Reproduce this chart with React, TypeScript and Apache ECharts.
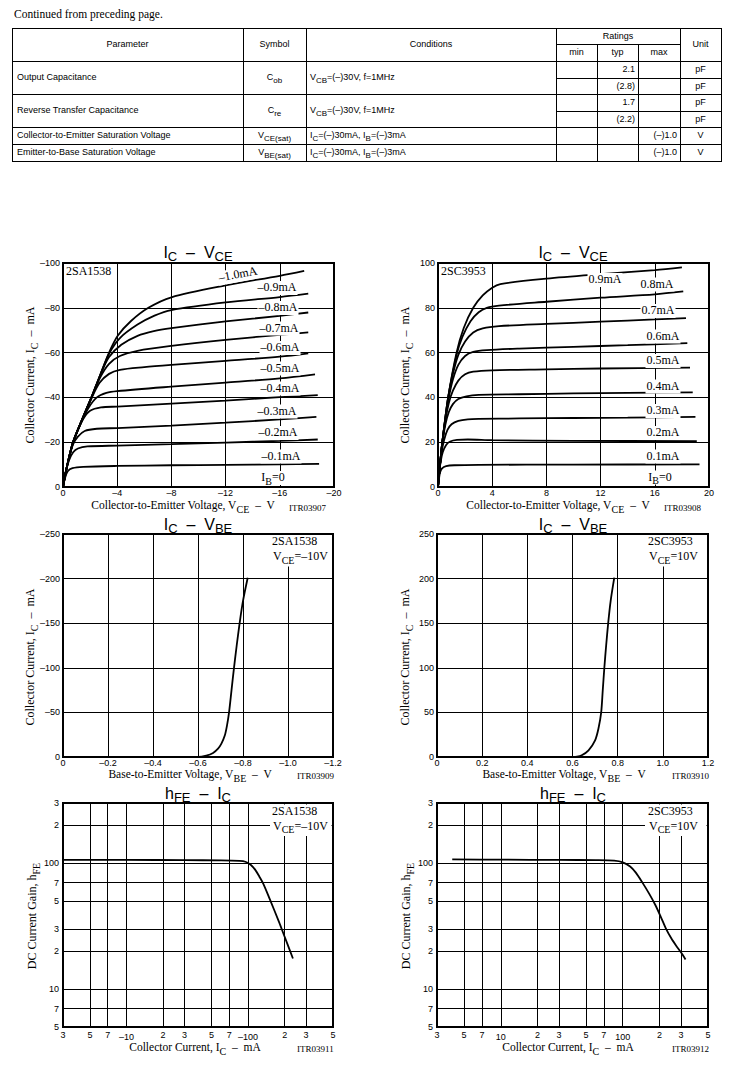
import React, { useEffect, useRef } from 'react';
import * as echarts from 'echarts';

const SANS = '"Liberation Sans", Arial, Helvetica, sans-serif';
const SERIF = '"Liberation Serif", "Times New Roman", Times, serif';

// ---------------- table content ----------------
const pageNote = 'Continued from preceding page.';
const tableHeaders = ['Parameter', 'Symbol', 'Conditions', 'Ratings', 'Unit'];
const ratingHeaders = ['min', 'typ', 'max'];
const paramNames = [
  'Output Capacitance',
  'Reverse Transfer Capacitance',
  'Collector-to-Emitter Saturation Voltage',
  'Emitter-to-Base Saturation Voltage',
];
const paramSymbols = ['C_{ob}', 'C_{re}', 'V_{CE(sat)}', 'V_{BE(sat)}'];
const paramConditions = [
  'V_{CB}=(–)30V, f=1MHz',
  'V_{CB}=(–)30V, f=1MHz',
  'I_{C}=(–)30mA, I_{B}=(–)3mA',
  'I_{C}=(–)30mA, I_{B}=(–)3mA',
];
const ratingMin = ['', '', '', '', '', ''];
const ratingTyp = ['2.1', '(2.8)', '1.7', '(2.2)', '', ''];
const ratingMax = ['', '', '', '', '(–)1.0', '(–)1.0'];
const ratingUnit = ['pF', 'pF', 'pF', 'pF', 'V', 'V'];

// ---------------- chart texts ----------------
const partPnp = '2SA1538';
const partNpn = '2SC3953';
const titleIcVce = 'I_{C}  –  V_{CE}';
const titleIcVbe = 'I_{C}  –  V_{BE}';
const titleHfeIc = 'h_{FE}  –  I_{C}';
const nameVce = 'Collector-to-Emitter Voltage, V_{CE}  –  V';
const nameVbe = 'Base-to-Emitter Voltage, V_{BE}  –  V';
const nameIcX = 'Collector Current, I_{C}  –  mA';
const nameIcY = 'Collector Current, I_{C}  –  mA';
const nameHfe = 'DC Current Gain, h_{FE}';
const condPnp = 'V_{CE}=–10V';
const condNpn = 'V_{CE}=10V';
const figCodes = ['ITR03907', 'ITR03908', 'ITR03909', 'ITR03910', 'ITR03911', 'ITR03912'];
const pnpCurveLabels = ['–1.0mA', '–0.9mA', '–0.8mA', '–0.7mA', '–0.6mA', '–0.5mA', '–0.4mA', '–0.3mA', '–0.2mA', '–0.1mA', 'I_{B}=0'];
const npnCurveLabels = ['0.9mA', '0.8mA', '0.7mA', '0.6mA', '0.5mA', '0.4mA', '0.3mA', '0.2mA', '0.1mA', 'I_{B}=0'];

// ---------------- IC - VCE, 2SA1538 (V, mA) ----------------
const pnpIb01 = [[0, 0], [-0.15, -4], [-0.35, -7], [-0.7, -8.4], [-1.5, -9], [-4, -9.4], [-8, -9.7], [-12, -9.9], [-16, -10.1], [-18.9, -10.3]];
const pnpIb02 = [[0, 0], [-0.2, -6.5], [-0.45, -12], [-0.75, -15.5], [-1.1, -17.2], [-1.8, -18.1], [-4, -18.5], [-8, -19.1], [-12, -19.8], [-16, -20.6], [-18.8, -21.2]];
const pnpIb03 = [[0, 0], [-0.2, -6.5], [-0.4, -12], [-0.74, -19], [-1.1, -22.5], [-1.6, -25], [-2.5, -26], [-4, -26.3], [-8, -27.4], [-12, -28.7], [-16, -30.2], [-18.7, -31.3]];
const pnpIb04 = [[0, 0], [-0.2, -6.5], [-0.4, -12], [-0.74, -19.5], [-1.1, -25.5], [-1.5, -30.5], [-2, -34], [-2.8, -35.5], [-4, -35.9], [-8, -37.2], [-12, -38.6], [-16, -40.1], [-18.8, -41]];
const pnpIb05 = [[0, 0], [-0.2, -6.5], [-0.4, -12], [-0.74, -19.8], [-1.4, -29.5], [-1.9, -35.5], [-2.5, -40], [-3.2, -42], [-4, -42.8], [-8, -44.8], [-12, -46.6], [-16, -48.5], [-18.6, -50.3]];
const pnpIb06 = [[0, 0], [-0.2, -6.5], [-0.4, -12], [-0.74, -20], [-1.4, -30], [-2.1, -39.5], [-2.7, -46.5], [-3.4, -50.5], [-4.2, -52.3], [-6, -53.5], [-8, -54.5], [-12, -56.3], [-16, -58.2], [-18.1, -59.7]];
const pnpIb07 = [[0, 0], [-0.2, -6.5], [-0.4, -12], [-0.74, -20], [-1.4, -30], [-2.1, -40], [-2.75, -49], [-3.4, -55], [-4.2, -58.5], [-5.5, -60.8], [-8, -63], [-12, -65.7], [-16, -67.9], [-18.1, -69]];
const pnpIb08 = [[0, 0], [-0.2, -6.5], [-0.4, -12], [-0.74, -20], [-1.4, -30], [-2.1, -40], [-2.75, -50], [-3.4, -58], [-4.3, -63.5], [-5.5, -67.5], [-6.7, -69.6], [-8, -70.9], [-12, -73.9], [-16, -76.4], [-18.1, -77.9]];
const pnpIb09 = [[0, 0], [-0.2, -6.5], [-0.4, -12], [-0.74, -20], [-1.4, -30], [-2.1, -40], [-2.75, -50], [-3.4, -59.5], [-4.2, -66.5], [-5.5, -72.5], [-6.75, -76.5], [-8, -79], [-12, -82.4], [-16, -84.8], [-18.1, -86.3]];
const pnpIb10 = [[0, 0], [-0.2, -6.5], [-0.4, -12], [-0.74, -20], [-1.4, -30], [-2.1, -40], [-2.75, -50], [-3.4, -60], [-4.05, -67.6], [-5, -74], [-6.3, -80], [-8, -84.7], [-12, -90], [-16, -94.3], [-17.8, -96.5]];
const pnpIcVce = [pnpIb01, pnpIb02, pnpIb03, pnpIb04, pnpIb05, pnpIb06, pnpIb07, pnpIb08, pnpIb09, pnpIb10];

// ---------------- IC - VCE, 2SC3953 (V, mA) ----------------
const npnIb01 = [[0, 0], [0.08, 4], [0.15, 6.5], [0.3, 8.3], [0.6, 9.3], [1.2, 9.7], [3, 9.9], [10, 10], [19.3, 10.1]];
const npnIb02 = [[0, 0], [0.1, 6.5], [0.2, 11.5], [0.35, 15.5], [0.6, 18.8], [0.9, 20.3], [1.4, 21], [2.2, 21.2], [4, 20.9], [10, 20.6], [19.1, 20.5]];
const npnIb03 = [[0, 0], [0.12, 8], [0.25, 15], [0.45, 21], [0.7, 25.5], [1, 28], [1.5, 29.5], [2.2, 30.2], [3, 30.4], [6, 30.6], [10, 30.8], [14, 31], [19, 31.3]];
const npnIb04 = [[0, 0], [0.15, 10], [0.32, 20], [0.55, 28], [0.8, 33.5], [1.1, 37], [1.5, 39.3], [2.1, 40.5], [3, 41.1], [6, 41.4], [10, 41.8], [14, 42], [18.8, 42.2]];
const npnIb05 = [[0, 0], [0.15, 10], [0.32, 20], [0.55, 30], [0.8, 37.5], [1.1, 43], [1.5, 47.5], [2, 50.3], [2.6, 51.5], [4, 52.1], [8, 52.5], [12, 52.9], [18.6, 53.3]];
const npnIb06 = [[0, 0], [0.15, 10], [0.32, 20], [0.55, 30.5], [0.8, 40], [1.1, 48], [1.5, 54.5], [2, 58.5], [2.6, 60.3], [3.6, 61.1], [6, 61.8], [10, 62.6], [14, 63.3], [18.4, 64.2]];
const npnIb07 = [[0, 0], [0.15, 10], [0.32, 20], [0.75, 40], [1.1, 50.5], [1.5, 59], [2, 65], [2.6, 69], [3.3, 70.8], [4.5, 71.8], [8, 72.8], [12, 73.8], [16, 74.8], [18.3, 75.4]];
const npnIb08 = [[0, 0], [0.15, 10], [0.32, 20], [0.75, 40], [1.37, 59], [1.8, 67], [2.4, 74], [3, 78], [3.6, 80], [4.5, 81], [8, 82.7], [12, 84.5], [16, 86], [18.1, 87.3]];
const npnIb09 = [[0, 0], [0.15, 10], [0.32, 20], [0.75, 40], [1.37, 60], [1.9, 71], [2.6, 80], [3.3, 85.5], [4, 89], [4.6, 90.6], [8, 93], [12, 95], [16, 96.8], [18, 98]];
const npnIcVce = [npnIb01, npnIb02, npnIb03, npnIb04, npnIb05, npnIb06, npnIb07, npnIb08, npnIb09];

// ---------------- IC - VBE (V, mA) ----------------
const pnpVbe = [[0, 0], [-0.3, 0], [-0.6, 0], [-0.637, -1.5], [-0.667, -4.5], [-0.689, -9.3], [-0.704, -15], [-0.719, -24], [-0.729, -35.5], [-0.738, -50], [-0.749, -75], [-0.76, -100], [-0.772, -125], [-0.785, -150], [-0.8, -175], [-0.821, -201]];
const npnVbe = [[0, 0], [0.3, 0], [0.6, 0], [0.62, 0.3], [0.641, 1.9], [0.671, 7.5], [0.7, 18.7], [0.715, 32], [0.727, 50], [0.734, 75], [0.741, 100], [0.749, 125], [0.758, 150], [0.769, 175], [0.785, 201]];

// ---------------- hFE - IC ----------------
const pnpHfeIc = [3, 10, 30, 60, 85, 95, 105, 115, 124, 133, 150, 180, 200, 234];
const pnpHfe = [106, 106, 105.6, 105, 104, 102.5, 97, 88, 78, 69, 52.5, 34, 26, 17.5];
const npnHfeIc = [4, 10, 30, 60, 85, 100, 115, 128, 145, 165, 185, 205, 225, 250, 275, 300, 327];
const npnHfe = [107, 106.5, 106, 105.5, 104.5, 101.5, 94, 84, 70, 57, 46.5, 37.5, 30.5, 25.3, 22, 19.6, 17.2];

// ---------------- tick labels ----------------
const hfeXTicks = [3, 5, 7, 10, 20, 30, 50, 70, 100, 200, 300, 500];
const hfeXLabelsPnp = ['3', '5', '7', '–10', '2', '3', '5', '7', '–100', '2', '3', '5'];
const hfeXLabelsNpn = ['3', '5', '7', '10', '2', '3', '5', '7', '100', '2', '3', '5'];
const hfeXGrid = [5, 7, 10, 20, 30, 50, 70, 100, 200, 300];
const hfeYTicks = [5, 7, 10, 20, 30, 50, 70, 100, 200, 300];
const hfeYLabels = ['5', '7', '10', '2', '3', '5', '7', '100', '2', '3'];
const hfeYGrid = [7, 10, 20, 30, 50, 70, 100, 200];

// ---------------- helpers ----------------
function toRich(markup: string) {
  const parts = markup.split(/_\{([^}]*)\}/);
  let out = '';
  parts.forEach((p, i) => {
    if (!p) return;
    out += i % 2 ? `{s|${p}}` : `{a|${p}}`;
  });
  return out;
}
function richSet(family: string, a: number, s: number, drop: number) {
  const p = Math.max(0, Math.round((a + 2) / 2 + 0.36 * a + drop - (s + 1) / 2 - 0.36 * s));
  return {
    a: { fontFamily: family, fontSize: a, lineHeight: a + 2, verticalAlign: 'top' },
    s: { fontFamily: family, fontSize: s, lineHeight: s + 1, padding: [p, 0, 0, 0], verticalAlign: 'top' },
  };
}
function textEl(x: number, y: number, markup: string, family: string, size: number, subSize: number, extra: any = {}) {
  const style: any = {
    text: toRich(markup),
    rich: richSet(family, size, subSize, extra.drop ?? 3),
    fill: '#000',
    align: extra.align || 'left',
    verticalAlign: 'middle',
    fontFamily: family,
    fontSize: size,
  };
  if (extra.bg) {
    style.backgroundColor = '#fff';
    style.padding = [0, 1, 0, 1];
  }
  return { type: 'text', x, y, rotation: extra.rotation || 0, z: 20, silent: true, style };
}
function lineEl(x1: number, y1: number, x2: number, y2: number, w = 1) {
  return { type: 'line', z: 20, silent: true, shape: { x1, y1, x2, y2 }, style: { stroke: '#000', lineWidth: w } };
}
function rectEl(x: number, y: number, width: number, height: number) {
  return { type: 'rect', z: 15, silent: true, shape: { x, y, width, height }, style: { fill: '#fff' } };
}
const dash = (s: string) => s.replace('-', '–');

const labelBase = { color: '#000', fontSize: 9, fontFamily: SANS, showMinLabel: true, showMaxLabel: true };
const splitBase = { show: true, lineStyle: { color: '#000', width: 1 } };

function valueAxis(gridIndex: number, min: number, max: number, interval: number, inverse: boolean, fmt: (v: number) => string, margin: number) {
  return {
    type: 'value', gridIndex, min, max, interval, inverse,
    axisLine: { show: false }, axisTick: { show: false }, splitLine: splitBase,
    axisLabel: { ...labelBase, margin, formatter: fmt },
  };
}
function logAxis(gridIndex: number, min: number, max: number, ticks: number[], labels: string[], grid: number[], lowered: number[], margin: number) {
  return {
    type: 'log', logBase: 10, gridIndex, min, max,
    axisLine: { show: false },
    axisTick: { show: false, customValues: grid },
    splitLine: splitBase,
    axisLabel: {
      ...labelBase, margin, customValues: ticks,
      formatter: (v: number) => {
        const i = ticks.findIndex((t) => Math.abs(t - v) / t < 1e-6);
        if (i < 0) return '';
        return lowered.includes(ticks[i]) ? `{d|${labels[i]}}` : labels[i];
      },
      rich: { d: { color: '#000', fontSize: 9, fontFamily: SANS, padding: [2, 0, 0, 0] } },
    },
  };
}

function buildOption() {
  const g: any[] = [];
  // ---------- note + table ----------
  g.push(textEl(14, 15, pageNote, SERIF, 11.5, 9, {}));
  const colX = [12, 243, 306, 556, 597, 638, 680, 721];
  const top = 28, hdrMid = 44.5, hdrBot = 61, bottom = 161;
  const paramRows = [[61, 94], [94, 127], [127, 144], [144, 161]];
  const subRows = [[61, 78], [78, 94], [94, 111], [111, 127], [127, 144], [144, 161]];
  [top, hdrBot, 94, 127, 144, bottom].forEach((y) => g.push(lineEl(colX[0], y + 0.5, colX[7], y + 0.5)));
  g.push(lineEl(colX[3], hdrMid, colX[6], hdrMid));
  [78, 111].forEach((y) => g.push(lineEl(colX[3], y + 0.5, colX[7], y + 0.5)));
  [0, 1, 2, 3, 6, 7].forEach((i) => g.push(lineEl(colX[i] + 0.5, top, colX[i] + 0.5, bottom + 1)));
  [4, 5].forEach((i) => g.push(lineEl(colX[i] + 0.5, hdrMid, colX[i] + 0.5, bottom + 1)));
  const hy = (top + hdrBot) / 2 + 0.5;
  g.push(textEl((colX[0] + colX[1]) / 2, hy, tableHeaders[0], SANS, 9, 8, { align: 'center' }));
  g.push(textEl((colX[1] + colX[2]) / 2, hy, tableHeaders[1], SANS, 9, 8, { align: 'center' }));
  g.push(textEl((colX[2] + colX[3]) / 2, hy, tableHeaders[2], SANS, 9, 8, { align: 'center' }));
  g.push(textEl((colX[3] + colX[6]) / 2, (top + hdrMid) / 2 + 0.5, tableHeaders[3], SANS, 9, 8, { align: 'center' }));
  g.push(textEl((colX[6] + colX[7]) / 2, hy, tableHeaders[4], SANS, 9, 8, { align: 'center' }));
  ratingHeaders.forEach((h, i) => g.push(textEl((colX[3 + i] + colX[4 + i]) / 2, (hdrMid + hdrBot) / 2 + 0.5, h, SANS, 9, 8, { align: 'center' })));
  paramRows.forEach(([a, b], i) => {
    const cy = (a + b) / 2 + 0.5;
    g.push(textEl(17, cy, paramNames[i], SANS, 9, 8, {}));
    g.push(textEl((colX[1] + colX[2]) / 2, cy, paramSymbols[i], SANS, 9, 8, { align: 'center', drop: 3 }));
    g.push(textEl(310, cy, paramConditions[i], SANS, 9, 8, { drop: 3 }));
  });
  subRows.forEach(([a, b], i) => {
    const cy = (a + b) / 2 + 0.5;
    if (ratingMin[i]) g.push(textEl(colX[4] - 3, cy, ratingMin[i], SANS, 9, 8, { align: 'right' }));
    if (ratingTyp[i]) g.push(textEl(colX[5] - 3, cy, ratingTyp[i], SANS, 9, 8, { align: 'right' }));
    if (ratingMax[i]) g.push(textEl(colX[6] - 3, cy, ratingMax[i], SANS, 9, 8, { align: 'right' }));
    g.push(textEl((colX[6] + colX[7]) / 2, cy, ratingUnit[i], SANS, 9, 8, { align: 'center' }));
  });

  // ---------- chart layout ----------
  const grids = [
    { left: 63, top: 263, width: 271, height: 224 },
    { left: 438, top: 263, width: 271, height: 224 },
    { left: 63, top: 534, width: 270, height: 223 },
    { left: 437, top: 534, width: 271, height: 223 },
    { left: 63, top: 803, width: 270, height: 224 },
    { left: 437, top: 803, width: 271, height: 224 },
  ];
  const colCx = [198, 573];
  const titleY = [253, 525, 794];
  [titleIcVce, titleIcVbe, titleHfeIc].forEach((t, r) => {
    colCx.forEach((cx) => g.push(textEl(cx, titleY[r], t, SANS, 16, 13, { align: 'center', drop: 3 })));
  });
  // x names + figure codes
  const xNames = [nameVce, nameVce, nameVbe, nameVbe, nameIcX, nameIcX];
  const xNameCx = [183, 558, 190, 564, 195, 568];
  const xNameY = [506, 506, 775, 775, 1048, 1048];
  const codeX = [289, 664, 297, 672, 297, 672];
  const codeY = [508.5, 508.5, 776.5, 776.5, 1049.5, 1049.5];
  xNames.forEach((n, i) => {
    g.push(textEl(xNameCx[i], xNameY[i], n, SERIF, 11.5, 10, { align: 'center', drop: 3 }));
    g.push(textEl(codeX[i], codeY[i], figCodes[i], SERIF, 9, 8, {}));
  });
  // y names
  const yNames = [nameIcY, nameIcY, nameIcY, nameIcY, nameHfe, nameHfe];
  const yNameX = [31, 406, 31, 406, 33, 407];
  const yNameY = [375, 375, 657, 657, 916, 916];
  yNames.forEach((n, i) => g.push(textEl(yNameX[i], yNameY[i], n, SERIF, 12, 10, { align: 'center', rotation: Math.PI / 2, drop: 3 })));
  // part names in IC-VCE
  g.push(textEl(66, 271.5, partPnp, SERIF, 12, 10, {}));
  g.push(textEl(441, 271.5, partNpn, SERIF, 12, 10, {}));
  // curve labels
  const pnpLabPos = [[238, 275], [277, 288], [278, 308], [279, 328.5], [280, 348], [280, 368.5], [280, 388.5], [277, 411.5], [278, 433], [281, 456.5], [273, 478]];
  pnpCurveLabels.forEach((t, i) => g.push(textEl(pnpLabPos[i][0], pnpLabPos[i][1], t, SERIF, 12, 10, { align: 'center', bg: true, rotation: i === 0 ? 0.19 : 0, drop: 3 })));
  const npnLabPos = [[605, 280], [657, 284.5], [658, 311], [663, 336.5], [663, 361], [663, 386.5], [663, 411], [663, 433], [663, 456.5], [660, 477.5]];
  npnCurveLabels.forEach((t, i) => g.push(textEl(npnLabPos[i][0], npnLabPos[i][1], t, SERIF, 12, 10, { align: 'center', bg: true, drop: 3 })));
  // condition boxes (mid + bottom)
  [[270, 535, 272, partPnp, condPnp], [645, 535, 648, partNpn, condNpn], [270, 804.5, 272, partPnp, condPnp], [645, 804.5, 648, partNpn, condNpn]].forEach((b: any) => {
    g.push(rectEl(b[0], b[1], 61.5, 31.5));
    g.push(textEl(b[2], b[1] + 7, b[3], SERIF, 12, 10, {}));
    g.push(textEl(b[2] + 1, b[1] + 22, b[4], SERIF, 12, 10, { drop: 3 }));
  });

  const xAxis = [
    valueAxis(0, -20, 0, 4, true, (v) => (v === 0 ? '0' : dash(String(v))), 1),
    valueAxis(1, 0, 20, 4, false, (v) => String(v), 1),
    valueAxis(2, -1.2, 0, 0.2, true, (v) => (Math.abs(v) < 1e-9 ? '0' : dash(v.toFixed(1))), 1),
    valueAxis(3, 0, 1.2, 0.2, false, (v) => (Math.abs(v) < 1e-9 ? '0' : v.toFixed(1)), 1),
    logAxis(4, 3, 500, hfeXTicks, hfeXLabelsPnp, hfeXGrid, [10, 100], 3),
    logAxis(5, 3, 500, hfeXTicks, hfeXLabelsNpn, hfeXGrid, [10, 100], 3),
  ];
  const yAxis = [
    valueAxis(0, -100, 0, 20, true, (v) => (v === 0 ? '0' : dash(String(v))), 3),
    valueAxis(1, 0, 100, 20, false, (v) => String(v), 3),
    valueAxis(2, -250, 0, 50, true, (v) => (v === 0 ? '0' : dash(String(v))), 3),
    valueAxis(3, 0, 250, 50, false, (v) => String(v), 3),
    logAxis(4, 5, 300, hfeYTicks, hfeYLabels, hfeYGrid, [], 4),
    logAxis(5, 5, 300, hfeYTicks, hfeYLabels, hfeYGrid, [], 4),
  ];
  const lineStyle = { color: '#000', width: 1.8 };
  const base = { type: 'line', showSymbol: false, silent: true, z: 5, lineStyle, itemStyle: { color: '#000' } };
  const series: any[] = [];
  pnpIcVce.forEach((d, i) => series.push({ ...base, name: `2SA1538 IB=-${((i + 1) / 10).toFixed(1)}mA`, xAxisIndex: 0, yAxisIndex: 0, data: d, smooth: 0.3 }));
  npnIcVce.forEach((d, i) => series.push({ ...base, name: `2SC3953 IB=${((i + 1) / 10).toFixed(1)}mA`, xAxisIndex: 1, yAxisIndex: 1, data: d, smooth: 0.3 }));
  series.push({ ...base, name: '2SA1538 IC-VBE', xAxisIndex: 2, yAxisIndex: 2, data: pnpVbe, smooth: 0.3 });
  series.push({ ...base, name: '2SC3953 IC-VBE', xAxisIndex: 3, yAxisIndex: 3, data: npnVbe, smooth: 0.3 });
  series.push({ ...base, name: '2SA1538 hFE', xAxisIndex: 4, yAxisIndex: 4, data: pnpHfeIc.map((x, i) => [x, pnpHfe[i]]), smooth: 0.3 });
  series.push({ ...base, name: '2SC3953 hFE', xAxisIndex: 5, yAxisIndex: 5, data: npnHfeIc.map((x, i) => [x, npnHfe[i]]), smooth: 0.3 });

  return {
    animation: false,
    backgroundColor: '#fff',
    grid: grids.map((r) => ({ ...r, show: true, borderColor: '#000', borderWidth: 2, backgroundColor: 'transparent', containLabel: false })),
    xAxis,
    yAxis,
    series,
    graphic: g,
  };
}

export default function App() {
  const ref = useRef<HTMLDivElement>(null);
  useEffect(() => {
    if (!ref.current) return;
    const chart = echarts.init(ref.current, null, { renderer: 'svg' });
    chart.setOption(buildOption() as any);
    return () => chart.dispose();
  }, []);
  return (
    <div
      ref={ref}
      style={{ position: 'absolute', left: 0, top: 0, width: 733, height: 1068, background: '#fff' }}
    />
  );
}
